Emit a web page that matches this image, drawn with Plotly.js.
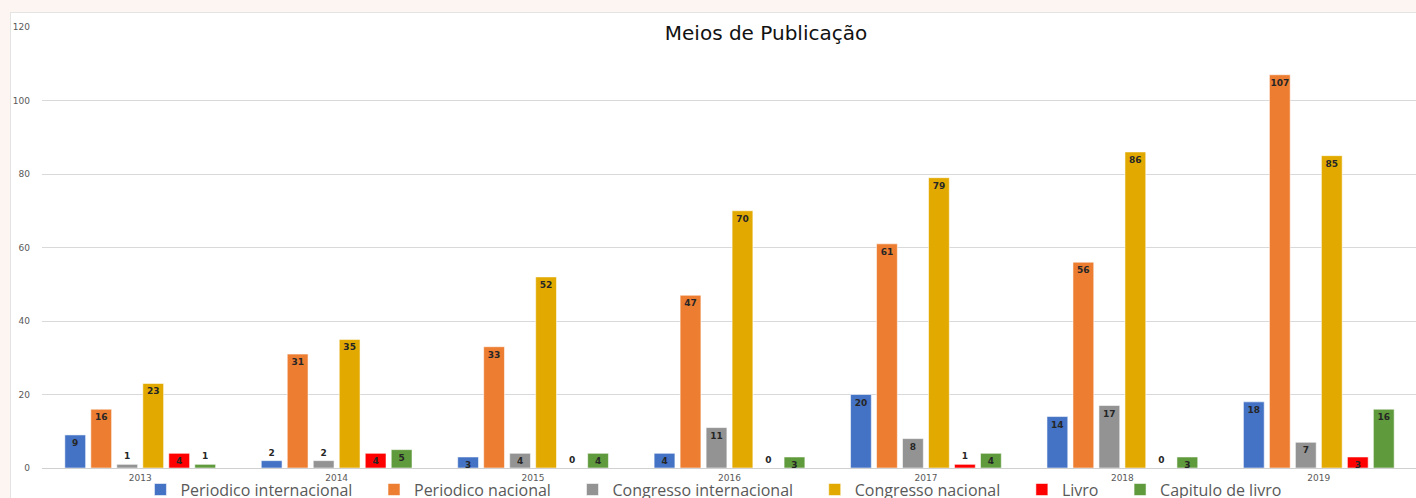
<!doctype html>
<html lang="pt">
    <head>
        <meta charset="UTF-8" />
        <title>Meios de Publicação</title>
        <script src="https://cdn.plot.ly/plotly-3.0.1.min.js"></script>
        <style>
            html, body {
                margin: 0;
                padding: 0;
                overflow: hidden;
                background-color: #fcf5f2;
            }
            #chart {
                position: absolute;
                left: 10px;
                top: 12px;
                width: 1406px;
                height: 520px;
                border-left: 1px solid #e4e4e4;
                border-top: 1px solid #e4e4e4;
                box-sizing: border-box;
                background: white;
            }
        </style>
    </head>
    <body>
        <div id="chart"></div>

        <script>
            // Anos (categorias)
            const years = ["2013", "2014", "2015", "2016", "2017", "2018", "2019"];

            // Séries
            const periodicoInternacional = [9, 2, 3, 4, 20, 14, 18];
            const periodicoNacional = [16, 31, 33, 47, 61, 56, 107];
            const congressoInternacional = [1, 2, 4, 11, 8, 17, 7];
            const congressoNacional = [23, 35, 52, 70, 79, 86, 85];
            const livro = [4, 4, 0, 0, 1, 0, 3];
            const capituloLivro = [1, 5, 4, 3, 4, 3, 16];

            const seriesNames = [
                "Periodico internacional",
                "Periodico nacional",
                "Congresso internacional",
                "Congresso nacional",
                "Livro",
                "Capitulo de livro",
            ];
            const seriesValues = [
                periodicoInternacional,
                periodicoNacional,
                congressoInternacional,
                congressoNacional,
                livro,
                capituloLivro,
            ];
            const colors = ["#4472c4", "#ed7d31", "#939393", "#e2aa00", "#ff0000", "#5f9a3c"];

            // small bars get the label above, the rest inside near the top
            function positions(vals) {
                return vals.map((v) => (v <= 2 ? "outside" : "inside"));
            }

            // a bit of extra room after each legend entry
            const pad = "\u00a0\u00a0\u00a0\u00a0";

            const labelFont = { family: "DejaVu Sans", size: 9, color: "#262626", weight: "bold" };

            const traces = seriesNames.map((name, i) => ({
                type: "bar",
                name: name + pad,
                x: years,
                y: seriesValues[i],
                marker: {
                    color: colors[i],
                    line: { color: "rgba(255,255,255,0.55)", width: 1 },
                },
                text: seriesValues[i].map(String),
                textposition: positions(seriesValues[i]),
                textangle: 0,
                insidetextanchor: "end",
                constraintext: "none",
                cliponaxis: false,
                textfont: labelFont,
                outsidetextfont: labelFont,
                hovertemplate: "%{x}: %{y}<extra>" + name + "</extra>",
            }));

            const layout = {
                width: 1406,
                height: 520,
                margin: { l: 31, r: 0, t: 14, b: 65 },
                paper_bgcolor: "white",
                plot_bgcolor: "white",
                barmode: "group",
                bargap: 0.206,
                bargroupgap: 0.2,
                title: {
                    text: "Meios de Publicação",
                    font: { family: "DejaVu Sans", size: 20, color: "#111111" },
                    xref: "container",
                    yref: "container",
                    x: 0.537,
                    y: 0.9615,
                    xanchor: "center",
                    yanchor: "middle",
                },
                xaxis: {
                    type: "category",
                    showgrid: false,
                    showline: false,
                    ticks: "",
                    tickfont: { family: "DejaVu Sans", size: 9, color: "#595959" },
                    ticklabelstandoff: 3,
                },
                yaxis: {
                    range: [0, 120],
                    tickvals: [0, 20, 40, 60, 80, 100, 120],
                    gridcolor: "#d9d9d9",
                    zeroline: true,
                    zerolinecolor: "#d0d0d0",
                    zerolinewidth: 1,
                    ticks: "",
                    tickfont: { family: "DejaVu Sans", size: 9, color: "#595959" },
                    ticklabelstandoff: 11,
                },
                legend: {
                    orientation: "h",
                    x: 0.0716,
                    xanchor: "left",
                    y: -0.049,
                    yanchor: "middle",
                    bgcolor: "rgba(0,0,0,0)",
                    font: { family: "Open Sans", size: 16, color: "#595959" },
                },
                showlegend: true,
            };

            Plotly.newPlot("chart", traces, layout, { displayModeBar: false });
        </script>
    </body>
</html>
